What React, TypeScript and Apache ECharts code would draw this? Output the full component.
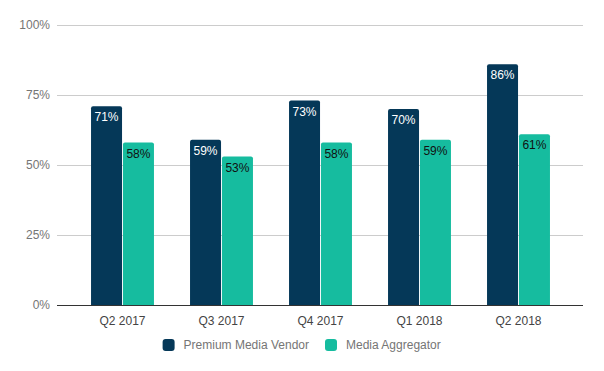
import React, { useEffect, useRef } from "react";
import * as echarts from "echarts";

const categories = ["Q2 2017", "Q3 2017", "Q4 2017", "Q1 2018", "Q2 2018"];
const premiumVendor = [71, 59, 73, 70, 86];
const mediaAggregator = [58, 53, 58, 59, 61];
const seriesNames = ["Premium Media Vendor", "Media Aggregator"];

export default function App() {
  const ref = useRef<HTMLDivElement>(null);
  useEffect(() => {
    const chart = echarts.init(ref.current!, null, { renderer: "svg" });
    const font = "Arial, 'Liberation Sans', sans-serif";
    chart.setOption({
      animation: false,
      textStyle: { fontFamily: font },
      legend: {
        bottom: 15,
        left: "center",
        itemWidth: 12,
        itemHeight: 12,
        itemGap: 16,
        icon: "roundRect",
        textStyle: { color: "#757575", fontSize: 12, fontFamily: font, padding: [0, 0, 0, 4] },
        data: seriesNames,
      },
      grid: [
        { left: 57, right: 21, top: 25, bottom: 66 },
        { left: 73, right: 36, top: 25, bottom: 66 },
      ],
      xAxis: [
        { type: "category", gridIndex: 0, data: [""], show: false },
        {
          type: "category",
          gridIndex: 1,
          data: categories,
          axisLine: { show: false },
          axisTick: { show: false },
          axisLabel: { color: "#444", fontSize: 12, margin: 10, fontFamily: font },
        },
      ],
      yAxis: [
        {
          type: "value",
          gridIndex: 0,
          min: 0,
          max: 100,
          interval: 25,
          axisLine: { show: false },
          axisTick: { show: false },
          axisLabel: { formatter: "{value}%", color: "#757575", fontSize: 12, margin: 7, fontFamily: font },
          splitLine: { lineStyle: { color: "#cccccc", width: 1 } },
        },
        {
          type: "value",
          gridIndex: 1,
          min: 0,
          max: 100,
          interval: 25,
          show: false,
        },
      ],
      series: [
        {
          type: "line",
          xAxisIndex: 0,
          yAxisIndex: 0,
          data: [],
          markLine: {
            silent: true,
            symbol: "none",
            label: { show: false },
            lineStyle: { color: "#333", type: "solid", width: 1 },
            data: [{ yAxis: 0 }],
          },
        },
        {
          name: seriesNames[0],
          type: "bar",
          xAxisIndex: 1,
          yAxisIndex: 1,
          data: premiumVendor,
          barWidth: 31,
          barGap: "3%",
          itemStyle: { color: "#053858", borderRadius: [2, 2, 0, 0] },
          label: {
            show: true,
            position: "insideTop",
            distance: 5,
            formatter: "{c}%",
            color: "#ffffff",
            fontSize: 12,
            fontFamily: font,
          },
        },
        {
          name: seriesNames[1],
          type: "bar",
          xAxisIndex: 1,
          yAxisIndex: 1,
          data: mediaAggregator,
          barWidth: 31,
          barGap: "3%",
          itemStyle: { color: "#16bc9f", borderRadius: [2, 2, 0, 0] },
          label: {
            show: true,
            position: "insideTop",
            distance: 5,
            formatter: "{c}%",
            color: "#111111",
            fontSize: 12,
            fontFamily: font,
          },
        },
      ],
    });
    return () => chart.dispose();
  }, []);
  return <div ref={ref} style={{ width: 604, height: 371, position: "absolute", left: 0, top: 0 }} />;
}
